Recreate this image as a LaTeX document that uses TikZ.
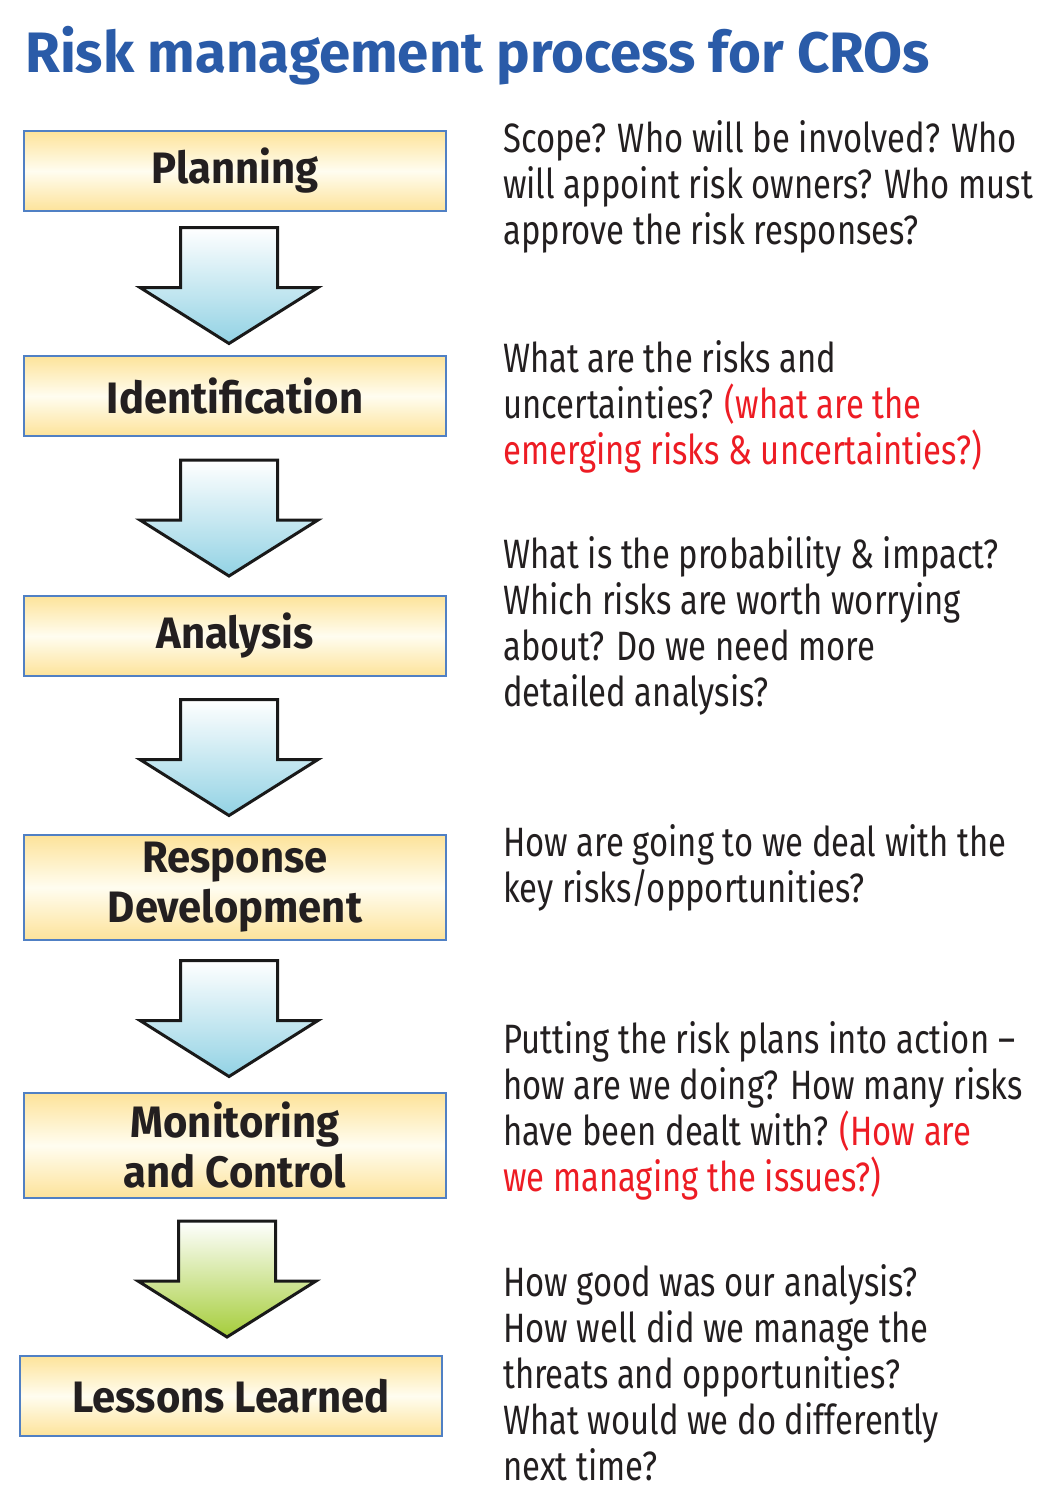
\documentclass[tikz,border=0pt]{standalone}
\usepackage{fontspec}
\setmainfont{Fira Sans}[FakeStretch=0.8]
\newfontfamily\headfont{Fira Sans}[FakeStretch=0.95]
\newfontfamily\titlefont{Fira Sans}[FakeStretch=0.99]
\usetikzlibrary{positioning, calc}

\definecolor{titleblue}{HTML}{2A5BA8}
\definecolor{boxline}{HTML}{5080C4}
\definecolor{boxgold}{HTML}{FDE39A}
\definecolor{boxpale}{HTML}{FFFDF0}
\definecolor{arrowblue}{HTML}{92D2E4}
\definecolor{arrowgreen}{HTML}{A5CD3A}
\definecolor{textdark}{HTML}{231F20}
\definecolor{notered}{HTML}{ED1C24}

\tikzset{
  stage/.style={draw=boxline, line width=1.5pt, top color=boxgold, bottom color=boxgold, middle color=boxpale,
    minimum width=422pt, minimum height=80pt, inner sep=0pt, outer sep=0pt, align=center, text=textdark,
    font=\headfont\bfseries\fontsize{44}{50}\selectfont},
  note/.style={anchor=base west, inner sep=0pt, align=left, text=textdark,
    font=\fontsize{41}{46}\selectfont},
  blockarrow/.style={draw=black!90, line width=3pt, line join=miter, top color=white, bottom color=#1},
}

% block arrow half way between two stages
\newcommand\stagearrow[3]{%
  \coordinate (#1#2) at ($(#1.south)!0.5!(#2.north)+(-6,0)$);
  \draw[blockarrow=#3] ($(#1#2)+(-48.5,-56)$) -- ++(97,0) -- ++(0,60) -- ++(40.5,0)
    -- ++(-89,56) -- ++(-89,-56) -- ++(40.5,0) -- cycle;
}

\begin{document}
\begin{tikzpicture}[x=1pt, y=-1pt]
  \useasboundingbox (0,0) rectangle (1048,1499);

  \node (title) [anchor=base west, inner sep=0pt, text=titleblue, font=\titlefont\bfseries\fontsize{57}{60}\selectfont]
    at (25,72) {Risk management process for CROs};

  % stages
  \node (plan) [stage] at (235,171) {Planning};
  \node (ident) [stage, below=145pt of plan] {Identification};
  \node (analysis) [stage, below=160pt of ident] {Analysis};
  \node (response) [stage, minimum height=105pt, below=159pt of analysis] {Response\\Development};
  \node (monitor) [stage, minimum height=105pt, below=153pt of response] {Monitoring\\and Control};
  \node (lessons) [stage, below=158pt of monitor, xshift=-4pt] {Lessons Learned};

  \stagearrow{plan}{ident}{arrowblue}
  \stagearrow{ident}{analysis}{arrowblue}
  \stagearrow{analysis}{response}{arrowblue}
  \stagearrow{response}{monitor}{arrowblue}
  \stagearrow{monitor}{lessons}{arrowgreen}

  % questions (placed at the baseline of their last line)
  \node (plannote) [note] at (503,244) {Scope? Who will be involved? Who\\
    will appoint risk owners? Who must\\approve the risk responses?};
  \node (identnote) [note] at (503,464) {What are the risks and\\
    uncertainties? \textcolor{notered}{(what are the}\\
    \textcolor{notered}{emerging risks \& uncertainties?)}};
  \node (analysisnote) [note] at (503,706) {What is the probability \& impact?\\
    Which risks are worth worrying\\about? Do we need more\\detailed analysis?};
  \node (responsenote) [note] at (503,902) {How are going to we deal with the\\key risks/opportunities?};
  \node (monitornote) [note] at (503,1191) {Putting the risk plans into action --\\
    how are we doing? How many risks\\have been dealt with? \textcolor{notered}{(How are}\\
    \textcolor{notered}{we managing the issues?)}};
  \node (lessonsnote) [note] at (503,1480) {How good was our analysis?\\
    How well did we manage the\\threats and opportunities?\\
    What would we do differently\\next time?};
\end{tikzpicture}
\end{document}
